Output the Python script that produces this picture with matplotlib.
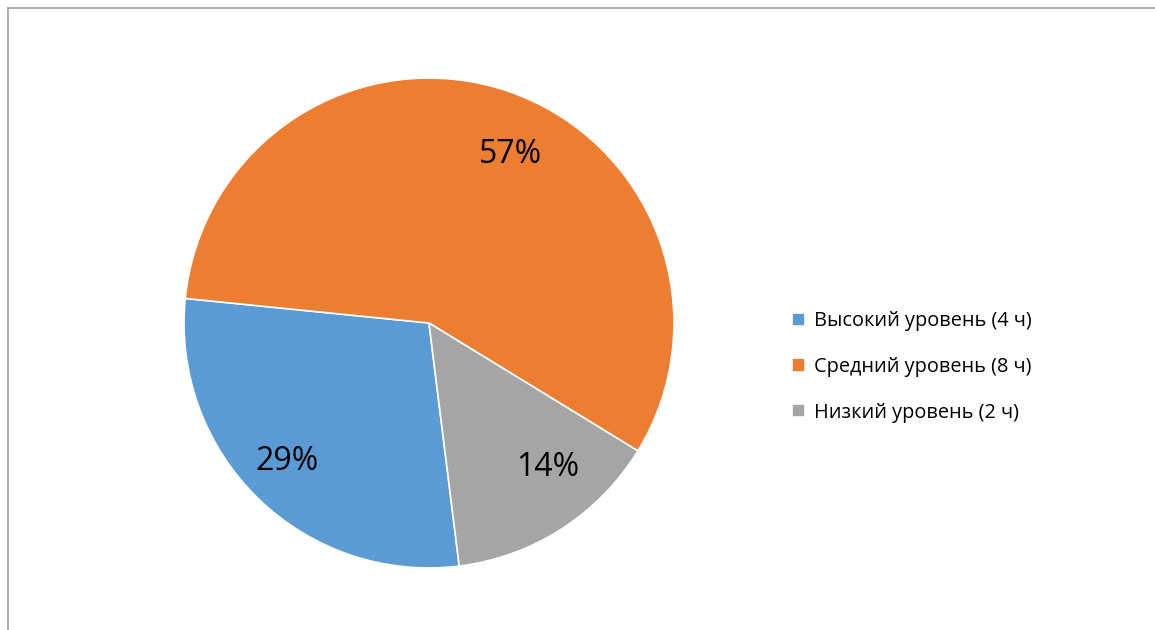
import matplotlib
matplotlib.use('Agg')
import matplotlib.pyplot as plt
from matplotlib.lines import Line2D

labels = ['Высокий уровень (4 ч)', 'Средний уровень (8 ч)', 'Низкий уровень (2 ч)']
hours = [4, 8, 2]
colors = ['#5B9BD5', '#ED7D31', '#A5A5A5']

# where Excel put the percentage labels (pie radius = 1)
label_pos = [(-0.58, -0.567), (0.331, 0.686), (0.486, -0.588)]

plt.rcParams['font.family'] = ['Open Sans', 'DejaVu Sans']

fig = plt.figure(figsize=(11.55, 6.3), dpi=100)
ax = fig.add_axes([0.1593, 0.0984, 0.4242, 0.7778])

wedges, texts, autotexts = ax.pie(
    hours, colors=colors, startangle=277.1, counterclock=False,
    autopct=lambda p: '{:.0f}%'.format(p), pctdistance=0.75,
    wedgeprops={'edgecolor': 'white', 'linewidth': 1.2},
    textprops={'fontsize': 23, 'color': 'black'})
for t, pos in zip(autotexts, label_pos):
    t.set_position(pos)
ax.set_aspect('equal')
ax.set_xlim(-1, 1)
ax.set_ylim(-1, 1)

fig.legend(wedges, labels, loc='center left', bbox_to_anchor=(0.670, 0.4175),
           frameon=False, fontsize=14.3, handlelength=0.65, handleheight=0.65,
           handletextpad=0.45, labelspacing=1.3)

# chart border (only top and left visible)
fig.add_artist(Line2D([8 / 1155, 8 / 1155], [0, 1 - 8 / 630], transform=fig.transFigure,
                      color='#a0a0a0', linewidth=1.2))
fig.add_artist(Line2D([8 / 1155, 1], [1 - 8 / 630, 1 - 8 / 630], transform=fig.transFigure,
                      color='#a0a0a0', linewidth=1.2))

fig.savefig('out.png', dpi=100)
